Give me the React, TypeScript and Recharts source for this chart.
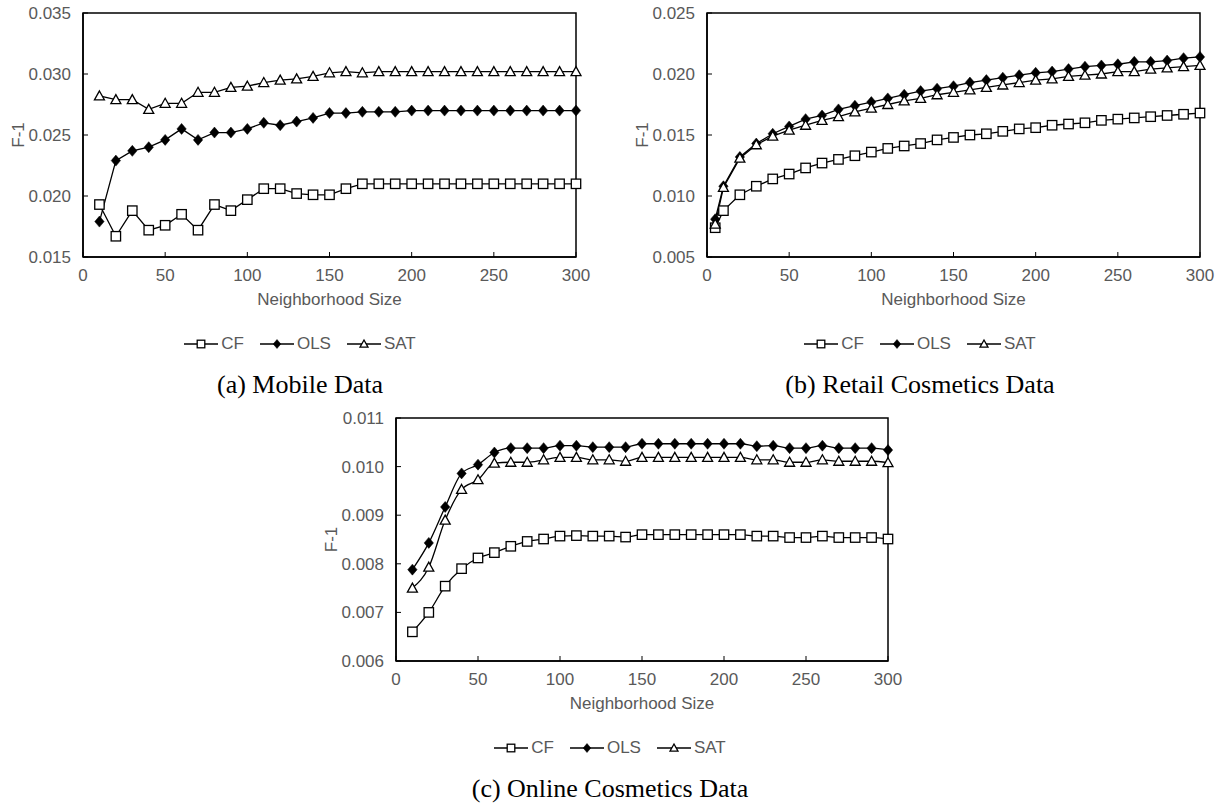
import React from "react";
import { Legend, Line, LineChart, ReferenceArea, XAxis, YAxis } from "recharts";

// neighbourhood sizes for each panel
const sizesA = [10, 20, 30, 40, 50, 60, 70, 80, 90, 100, 110, 120, 130, 140, 150, 160, 170, 180, 190, 200, 210, 220, 230, 240, 250, 260, 270, 280, 290, 300];
const sizesB = [5, 10, 20, 30, 40, 50, 60, 70, 80, 90, 100, 110, 120, 130, 140, 150, 160, 170, 180, 190, 200, 210, 220, 230, 240, 250, 260, 270, 280, 290, 300];
const sizesC = sizesA;

// (a) Mobile Data
const cfA = [0.0193, 0.0167, 0.0188, 0.0172, 0.0176, 0.0185, 0.0172, 0.0193, 0.0188, 0.0197, 0.0206, 0.0206, 0.0202, 0.0201, 0.0201, 0.0206, 0.021, 0.021, 0.021, 0.021, 0.021, 0.021, 0.021, 0.021, 0.021, 0.021, 0.021, 0.021, 0.021, 0.021];
const olsA = [0.0179, 0.0229, 0.0237, 0.024, 0.0246, 0.0255, 0.0246, 0.0252, 0.0252, 0.0255, 0.026, 0.0258, 0.0261, 0.0264, 0.0268, 0.0268, 0.0269, 0.0269, 0.0269, 0.027, 0.027, 0.027, 0.027, 0.027, 0.027, 0.027, 0.027, 0.027, 0.027, 0.027];
const satA = [0.0282, 0.0279, 0.0279, 0.0271, 0.0276, 0.0276, 0.0285, 0.0285, 0.0289, 0.029, 0.0293, 0.0295, 0.0296, 0.0298, 0.0301, 0.0302, 0.0301, 0.0302, 0.0302, 0.0302, 0.0302, 0.0302, 0.0302, 0.0302, 0.0302, 0.0302, 0.0302, 0.0302, 0.0302, 0.0302];

// (b) Retail Cosmetics Data
const cfB = [0.0074, 0.0088, 0.0101, 0.0108, 0.0114, 0.0118, 0.0123, 0.0127, 0.013, 0.0133, 0.0136, 0.0139, 0.0141, 0.0143, 0.0146, 0.0148, 0.015, 0.0151, 0.0153, 0.0155, 0.0156, 0.0158, 0.0159, 0.016, 0.0162, 0.0163, 0.0164, 0.0165, 0.0166, 0.0167, 0.0168];
const olsB = [0.0081, 0.0108, 0.0132, 0.0143, 0.0151, 0.0157, 0.0163, 0.0166, 0.0171, 0.0174, 0.0177, 0.018, 0.0183, 0.0186, 0.0188, 0.019, 0.0193, 0.0195, 0.0197, 0.0199, 0.0201, 0.0202, 0.0204, 0.0206, 0.0207, 0.0208, 0.021, 0.021, 0.0211, 0.0213, 0.0214];
const satB = [0.0077, 0.0107, 0.0131, 0.0142, 0.0149, 0.0154, 0.0158, 0.0162, 0.0165, 0.0169, 0.0172, 0.0175, 0.0178, 0.018, 0.0183, 0.0185, 0.0187, 0.0189, 0.0191, 0.0193, 0.0195, 0.0196, 0.0198, 0.0199, 0.02, 0.0202, 0.0202, 0.0204, 0.0205, 0.0206, 0.0207];

// (c) Online Cosmetics Data
const cfC = [0.0066, 0.007, 0.00754, 0.0079, 0.00812, 0.00823, 0.00836, 0.00846, 0.00851, 0.00857, 0.00858, 0.00857, 0.00857, 0.00855, 0.0086, 0.0086, 0.0086, 0.0086, 0.0086, 0.0086, 0.0086, 0.00857, 0.00857, 0.00854, 0.00854, 0.00857, 0.00854, 0.00854, 0.00854, 0.00851];
const olsC = [0.00788, 0.00843, 0.00917, 0.00986, 0.01004, 0.01029, 0.01038, 0.01038, 0.01038, 0.01043, 0.01043, 0.0104, 0.0104, 0.0104, 0.01047, 0.01047, 0.01047, 0.01047, 0.01047, 0.01047, 0.01047, 0.01042, 0.01043, 0.01038, 0.01038, 0.01043, 0.01038, 0.01038, 0.01038, 0.01034];
const satC = [0.0075, 0.00793, 0.0089, 0.00953, 0.00973, 0.01007, 0.01009, 0.01009, 0.01014, 0.01019, 0.01019, 0.01014, 0.01014, 0.01011, 0.01019, 0.01019, 0.01019, 0.01019, 0.01019, 0.01019, 0.01019, 0.01014, 0.01014, 0.01009, 0.01009, 0.01014, 0.01011, 0.01011, 0.01011, 0.01008];

const xTicks = [0, 50, 100, 150, 200, 250, 300];
const yTicksA = [0.015, 0.02, 0.025, 0.03, 0.035];
const yTicksB = [0.005, 0.01, 0.015, 0.02, 0.025];
const yTicksC = [0.006, 0.007, 0.008, 0.009, 0.01, 0.011];

const SANS = '"Liberation Sans", Arial, sans-serif';
const SERIF = '"Liberation Serif", "Times New Roman", serif';
const GREY = "#595959";

const makeRows = (sizes: number[], cf: number[], ols: number[], sat: number[]) =>
  sizes.map((size, i) => ({ size, cf: cf[i], ols: ols[i], sat: sat[i] }));

const SquareDot = (props: any) => {
  const { cx, cy, r = 4.7 } = props;
  if (cx == null || cy == null) return null;
  return <rect x={cx - r} y={cy - r} width={r * 2} height={r * 2} fill="#fff" stroke="#000" strokeWidth={1.3} />;
};

const DiamondDot = (props: any) => {
  const { cx, cy, r = 5.5 } = props;
  if (cx == null || cy == null) return null;
  const w = r * 0.85;
  return <polygon points={`${cx},${cy - r} ${cx + w},${cy} ${cx},${cy + r} ${cx - w},${cy}`} fill="#000" stroke="#000" strokeWidth={0.5} />;
};

const TriangleDot = (props: any) => {
  const { cx, cy, r = 5 } = props;
  if (cx == null || cy == null) return null;
  return <polygon points={`${cx},${cy - r} ${cx + r},${cy + r * 0.8} ${cx - r},${cy + r * 0.8}`} fill="#fff" stroke="#000" strokeWidth={1.3} />;
};

const series = [
  { key: "cf", name: "CF", Dot: SquareDot, small: 3.8 },
  { key: "ols", name: "OLS", Dot: DiamondDot, small: 4.5 },
  { key: "sat", name: "SAT", Dot: TriangleDot, small: 4 },
];

const renderLegend = () => (
  <div style={{ display: "flex", justifyContent: "center", alignItems: "center", fontFamily: SANS, fontSize: 17, color: GREY, lineHeight: "20px" }}>
    {series.map((s, i) => (
      <div key={s.key} style={{ display: "flex", alignItems: "center", marginLeft: i ? 16 : 0 }}>
        <svg width={34} height={14} style={{ display: "block", flexShrink: 0 }}>
          <line x1={0} y1={7} x2={34} y2={7} stroke="#000" strokeWidth={1.3} />
          <s.Dot cx={17} cy={7} r={s.small} />
        </svg>
        <span style={{ marginLeft: 3 }}>{s.name}</span>
      </div>
    ))}
  </div>
);

interface PanelProps {
  left: number;
  top: number;
  rows: any[];
  yTicks: number[];
  yWidth: number;
  marginRight: number;
  plotH: number;
  curve: "linear" | "monotone";
  caption: string;
}

const W = 600;
const H = 400;
const MT = 13;

const Panel: React.FC<PanelProps> = ({ left, top, rows, yTicks, yWidth, marginRight, plotH, curve, caption }) => {
  const plotBottom = MT + plotH;
  return (
    <div style={{ position: "absolute", left, top, width: W, height: H }}>
      <LineChart
        width={W}
        height={H}
        data={rows}
        margin={{ top: MT, right: marginRight, bottom: H - 30 - plotBottom, left: 0 }}
        style={{ fontFamily: SANS }}
      >
        <XAxis
          dataKey="size"
          type="number"
          domain={[0, 300]}
          ticks={xTicks}
          interval={0}
          height={30}
          tickSize={-5}
          tickMargin={17}
          axisLine={{ stroke: "#000", strokeWidth: 1.5 }}
          tickLine={{ stroke: "#000" }}
          tick={{ fill: GREY, fontSize: 17 }}
          label={{
            content: (p: any) => (
              <text x={p.viewBox.x + p.viewBox.width / 2} y={p.viewBox.y + 42} textAnchor="middle" dominantBaseline="central" fill={GREY} fontSize={17}>
                Neighborhood Size
              </text>
            ),
          }}
        />
        <YAxis
          type="number"
          domain={[yTicks[0], yTicks[yTicks.length - 1]]}
          ticks={yTicks}
          interval={0}
          width={yWidth}
          tickSize={-5}
          tickMargin={17}
          axisLine={{ stroke: "#000", strokeWidth: 1.5 }}
          tickLine={{ stroke: "#000" }}
          tick={{ fill: GREY, fontSize: 17 }}
          tickFormatter={(v: number) => v.toFixed(3)}
          label={{
            content: (p: any) => {
              const x = p.viewBox.x + p.viewBox.width - 65;
              const y = p.viewBox.y + p.viewBox.height / 2;
              return (
                <text x={x} y={y} transform={`rotate(-90 ${x} ${y})`} textAnchor="middle" dominantBaseline="central" fill={GREY} fontSize={17}>
                  F-1
                </text>
              );
            },
          }}
        />
        <ReferenceArea x1={0} x2={300} y1={yTicks[0]} y2={yTicks[yTicks.length - 1]} fill="none" fillOpacity={0} stroke="#000" strokeWidth={1.5} />
        {series.map((s) => (
          <Line
            key={s.key}
            type={curve}
            dataKey={s.key}
            name={s.name}
            stroke="#000"
            strokeWidth={1.3}
            dot={(p: any) => <s.Dot key={`${s.key}-${p.index}`} cx={p.cx} cy={p.cy} />}
            activeDot={false}
            isAnimationActive={false}
          />
        ))}
        <Legend
          layout="horizontal"
          verticalAlign="middle"
          align="center"
          content={renderLegend}
          wrapperStyle={{ top: plotBottom + 77, left: 0, width: W, height: 20 }}
        />
      </LineChart>
      <div
        style={{
          position: "absolute",
          left: 0,
          top: plotBottom + 128 - 15,
          width: W,
          textAlign: "center",
          fontFamily: SERIF,
          fontSize: 26,
          lineHeight: "30px",
          color: "#000",
        }}
      >
        {caption}
      </div>
    </div>
  );
};

const App: React.FC = () => {
  return (
    <div style={{ position: "absolute", left: 0, top: 0, width: 1221, height: 804, background: "#fff", overflow: "hidden" }}>
      <Panel left={0} top={0} rows={makeRows(sizesA, cfA, olsA, satA)} yTicks={yTicksA} yWidth={83} marginRight={24} plotH={244} curve="linear" caption="(a) Mobile Data" />
      <Panel left={620} top={0} rows={makeRows(sizesB, cfB, olsB, satB)} yTicks={yTicksB} yWidth={87} marginRight={20} plotH={244} curve="linear" caption="(b) Retail Cosmetics Data" />
      <Panel left={310} top={405} rows={makeRows(sizesC, cfC, olsC, satC)} yTicks={yTicksC} yWidth={86} marginRight={22} plotH={243} curve="monotone" caption="(c) Online Cosmetics Data" />
    </div>
  );
};

export default App;
